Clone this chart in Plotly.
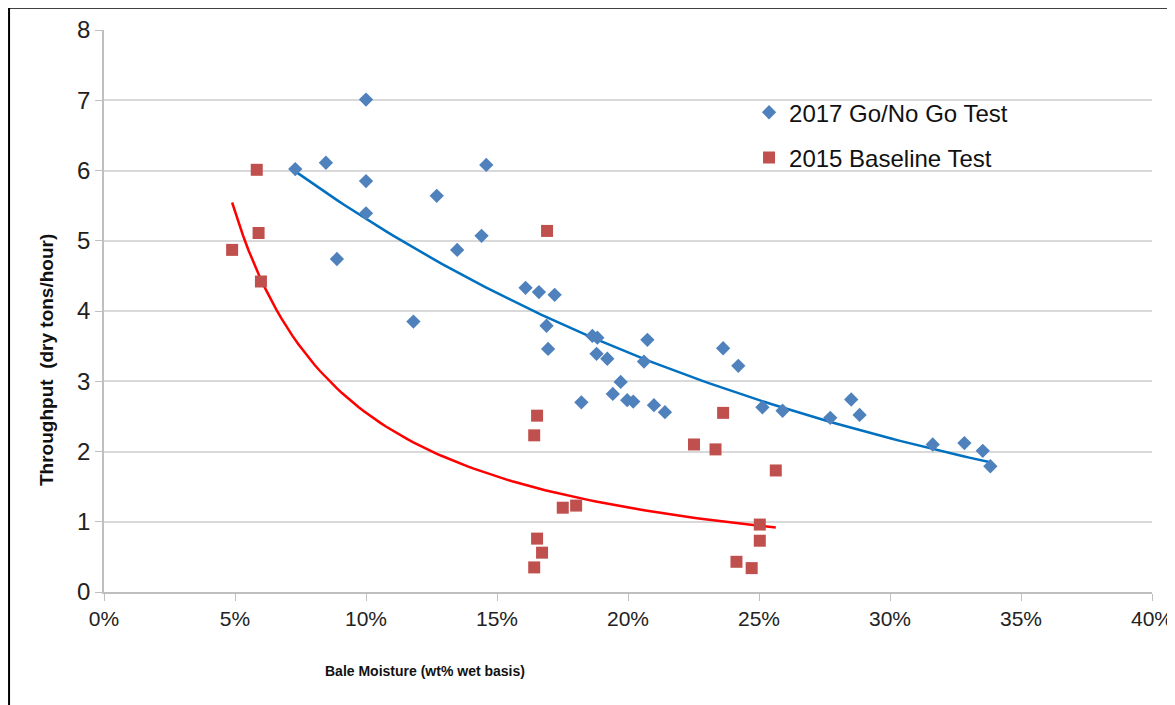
import numpy as np
import plotly.graph_objects as go

# 2017 Go/No Go Test (moisture %, throughput dry tons/hour)
go2017_x = [7.30, 8.47, 10.0, 10.0, 10.0, 8.89, 11.81, 12.70, 13.48, 14.41, 14.59,
            16.09, 16.60, 17.20, 16.89, 16.95, 18.64, 18.83, 18.80, 19.21, 19.72,
            19.42, 18.22, 19.97, 20.20, 20.74, 20.61, 20.99, 21.41, 23.63, 24.21,
            25.13, 25.90, 27.72, 28.52, 28.84, 31.63, 32.84, 33.54, 33.83]
go2017_y = [6.02, 6.11, 7.01, 5.85, 5.39, 4.74, 3.85, 5.64, 4.87, 5.07, 6.08,
            4.33, 4.27, 4.23, 3.79, 3.46, 3.645, 3.62, 3.39, 3.32, 2.99,
            2.82, 2.70, 2.73, 2.71, 3.59, 3.28, 2.66, 2.56, 3.47, 3.22,
            2.63, 2.58, 2.48, 2.74, 2.52, 2.10, 2.12, 2.01, 1.79]

# 2015 Baseline Test
base2015_x = [4.89, 5.83, 5.90, 5.99, 16.91, 16.53, 16.42, 16.53, 16.72, 16.42,
              17.51, 18.02, 22.52, 23.34, 23.63, 25.64, 25.03, 25.03, 24.14, 24.72]
base2015_y = [4.87, 6.01, 5.11, 4.42, 5.14, 2.51, 2.23, 0.76, 0.56, 0.35,
              1.20, 1.23, 2.10, 2.03, 2.55, 1.73, 0.96, 0.73, 0.43, 0.34]

x_ticks = [0, 5, 10, 15, 20, 25, 30, 35, 40]
x_tick_labels = ["0%", "5%", "10%", "15%", "20%", "25%", "30%", "35%", "40%"]
y_ticks = [0, 1, 2, 3, 4, 5, 6, 7, 8]

# Trendlines (Excel style): exponential for 2017, power for 2015
bx = np.array(go2017_x); by = np.array(go2017_y)
b_b, b_a = np.polyfit(bx, np.log(by), 1)
bt_x = np.linspace(bx.min(), bx.max(), 100)
bt_y = np.exp(b_a) * np.exp(b_b * bt_x)

rx = np.array(base2015_x); ry = np.array(base2015_y)
r_b, r_a = np.polyfit(np.log(rx), np.log(ry), 1)
rt_x = np.linspace(rx.min(), rx.max(), 100)
rt_y = np.exp(r_a) * rt_x ** r_b

fig = go.Figure()
fig.add_trace(go.Scatter(x=bt_x, y=bt_y, mode="lines", line=dict(color="#0070C0", width=2.5),
                         showlegend=False, hoverinfo="skip"))
fig.add_trace(go.Scatter(x=rt_x, y=rt_y, mode="lines", line=dict(color="#FF0000", width=2.5),
                         showlegend=False, hoverinfo="skip"))
fig.add_trace(go.Scatter(x=go2017_x, y=go2017_y, mode="markers", name="2017 Go/No Go Test",
                         marker=dict(symbol="diamond", size=11, color="#4F81BD"),
                         legendgroup="a"))
fig.add_trace(go.Scatter(x=base2015_x, y=base2015_y, mode="markers", name="2015 Baseline Test",
                         marker=dict(symbol="square", size=12, color="#C0504D"),
                         legendgroup="b"))

fig.update_layout(
    width=1167, height=697,
    margin=dict(l=96, r=23, t=22, b=113, autoexpand=False),
    paper_bgcolor="white", plot_bgcolor="white",
    font=dict(family="Liberation Sans, Arial", color="#222222"),
    legend=dict(x=0.6155, y=0.893, xanchor="left", yanchor="top",
                font=dict(size=24, family="Liberation Sans", color="#111111"),
                bgcolor="rgba(255,255,255,0)", tracegroupgap=11, itemwidth=30),
    xaxis=dict(range=[0, 40], tickvals=x_ticks, ticktext=x_tick_labels, automargin=False,
               ticklabeloverflow="allow",
               showgrid=False, zeroline=False, showline=True, linecolor="#BFBFBF", linewidth=1.5,
               ticks="outside", ticklen=7, tickcolor="#BFBFBF",
               tickfont=dict(size=21, color="#222222")),
    yaxis=dict(range=[0, 8], tickvals=y_ticks, automargin=False,
               ticklabeloverflow="allow",
               showgrid=True, gridcolor="#D9D9D9", gridwidth=1.5, zeroline=False,
               showline=True, linecolor="#BFBFBF", linewidth=1.5,
               ticks="outside", ticklen=7, tickcolor="#BFBFBF",
               tickfont=dict(size=24, color="#222222")),
    shapes=[
        dict(type="line", xref="paper", yref="paper", x0=-0.0906, x1=1.05, y0=1.0395, y1=1.0395,
             line=dict(color="black", width=2)),
        dict(type="line", xref="paper", yref="paper", x0=-0.0906, x1=-0.0906, y0=-0.3, y1=1.0395,
             line=dict(color="black", width=2)),
    ],
    annotations=[
        dict(text="<b>Bale Moisture (wt% wet basis)</b>", xref="paper", yref="paper",
             x=(425 - 104) / 1048, y=-(671 - 592) / 562, xanchor="center", yanchor="middle",
             showarrow=False, font=dict(size=14, family="Liberation Sans", color="#111111")),
        dict(text="<b>Throughput  (dry tons/hour)</b>", xref="paper", yref="paper",
             x=-(104 - 46) / 1048, y=(592 - 360) / 562, xanchor="center", yanchor="middle",
             textangle=-90, showarrow=False,
             font=dict(size=19, family="Liberation Sans", color="#111111")),
    ],
)

fig.write_html("out.html")
